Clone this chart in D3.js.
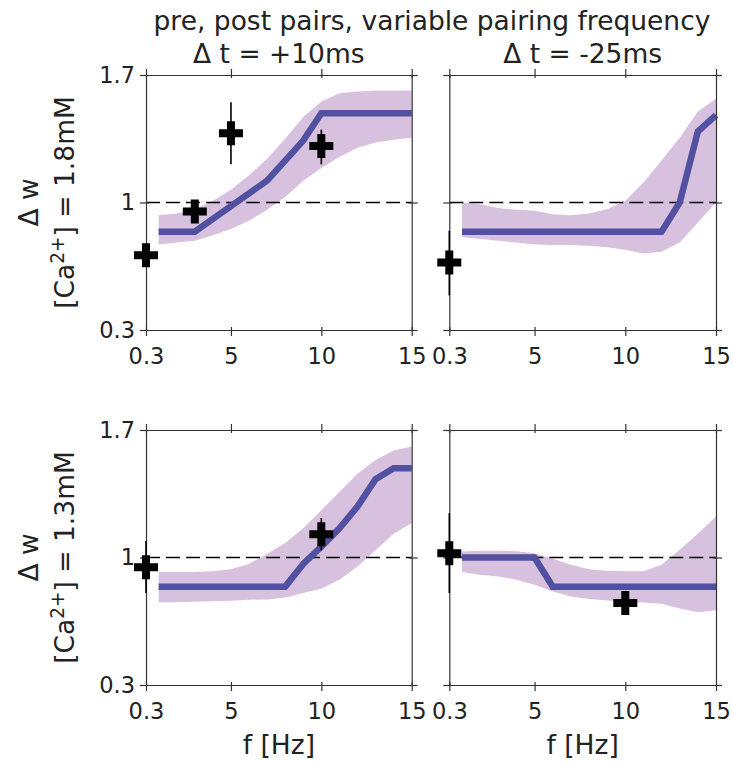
<!DOCTYPE html>
<html><head><meta charset="utf-8">
<script src="https://cdn.jsdelivr.net/npm/d3@7"></script>
<style>body{margin:0;background:#fff}svg{display:block}text{font-family:"DejaVu Sans",sans-serif;fill:#222}</style>
</head><body><div id="c"></div>
<script>
// ---------- data ----------
const freqs = [1,2,3,4,5,6,7,8,9,10,11,12,13,14,15];
const xTicks = [0.3,5,10,15];
const yTicks = [0.3,1,1.7];
const title = "pre, post pairs, variable pairing frequency";
const colTitles = ["\u0394 t = +10ms","\u0394 t = -25ms"];
const rowConc = ["1.8mM","1.3mM"];

// model (line + band) per panel
const tlLine  = [0.84,0.84,0.84,0.91,0.98,1.05,1.12,1.23,1.34,1.49,1.49,1.49,1.49,1.49,1.49];
const tlUpper = [0.93,0.94,0.96,1.01,1.07,1.15,1.24,1.35,1.47,1.555,1.60,1.61,1.615,1.615,1.615];
const tlLower = [0.77,0.78,0.79,0.82,0.855,0.90,0.96,1.03,1.12,1.19,1.25,1.30,1.33,1.345,1.355];

const trLine  = [0.84,0.84,0.84,0.84,0.84,0.84,0.84,0.84,0.84,0.84,0.84,0.84,1.0,1.39,1.48];
const trUpper = [1.0,0.99,0.97,0.96,0.955,0.935,0.93,0.94,0.963,1.01,1.11,1.23,1.355,1.50,1.57];
const trLower = [0.81,0.80,0.79,0.78,0.77,0.767,0.767,0.763,0.754,0.74,0.72,0.73,0.78,0.89,1.0];

const blLine  = [0.84,0.84,0.84,0.84,0.84,0.84,0.84,0.84,0.965,1.06,1.16,1.28,1.43,1.49,1.49];
const blUpper = [0.92,0.92,0.92,0.925,0.936,0.964,1.02,1.08,1.16,1.26,1.36,1.46,1.535,1.587,1.61];
const blLower = [0.755,0.755,0.757,0.76,0.763,0.768,0.77,0.78,0.805,0.83,0.878,0.95,1.04,1.13,1.19];

const brLine  = [1,1,1,1,1,0.84,0.84,0.84,0.84,0.84,0.84,0.84,0.84,0.84,0.84];
const brUpper = [1.033,1.037,1.037,1.035,1.024,0.993,0.96,0.936,0.927,0.925,0.925,0.96,1.042,1.13,1.225];
const brLower = [0.92,0.905,0.896,0.878,0.85,0.814,0.786,0.772,0.764,0.759,0.753,0.746,0.72,0.70,0.71];

// experimental points (mean, error low, error high)
const tlPtF = [0.3,3,5,10];  const tlPtW = [0.71,0.95,1.38,1.31];
const tlPtLo = [0.68,0.93,1.21,1.21]; const tlPtHi = [0.74,0.97,1.55,1.40];
const trPtF = [0.3];         const trPtW = [0.67];
const trPtLo = [0.49];       const trPtHi = [0.845];
const blPtF = [0.3,10];      const blPtW = [0.947,1.128];
const blPtLo = [0.805,1.04]; const blPtHi = [1.09,1.216];
const brPtF = [0.3,10];      const brPtW = [1.024,0.75];
const brPtLo = [0.805,0.73]; const brPtHi = [1.243,0.77];

// ---------- layout ----------
const W = 733, H = 763;
const LINE_COL = "#5250a0", BAND_COL = "#d7c1de", AX_COL = "#333";
const colX = [[146,411.7],[449.3,716]];
const rowY = [[75,330],[430,685]];
const panels = [
  {r:0,c:0,line:tlLine,up:tlUpper,lo:tlLower,pf:tlPtF,pw:tlPtW,pl:tlPtLo,ph:tlPtHi},
  {r:0,c:1,line:trLine,up:trUpper,lo:trLower,pf:trPtF,pw:trPtW,pl:trPtLo,ph:trPtHi},
  {r:1,c:0,line:blLine,up:blUpper,lo:blLower,pf:blPtF,pw:blPtW,pl:blPtLo,ph:blPtHi},
  {r:1,c:1,line:brLine,up:brUpper,lo:brLower,pf:brPtF,pw:brPtW,pl:brPtLo,ph:brPtHi}
];

const svg = d3.select("#c").append("svg").attr("width",W).attr("height",H);
const FT = 22.5, FL = 26.5;

svg.append("text").attr("x",432).attr("y",30).attr("text-anchor","middle")
  .style("font-size",FL+"px").text(title);

panels.forEach(p => {
  const [x0,x1] = colX[p.c], [y0,y1] = rowY[p.r];
  const x = d3.scaleLinear().domain([0.3,15]).range([x0,x1]);
  const y = d3.scaleLinear().domain([0.3,1.7]).range([y1,y0]);
  const g = svg.append("g");

  // band
  const area = d3.area().x((d,i)=>x(freqs[i])).y0((d,i)=>y(p.lo[i])).y1((d,i)=>y(p.up[i]));
  g.append("path").datum(freqs).attr("d",area).attr("fill",BAND_COL);
  // dashed reference at 1
  g.append("line").attr("x1",x0).attr("x2",x1).attr("y1",y(1)).attr("y2",y(1))
    .attr("stroke","#000").attr("stroke-width",1.3).attr("stroke-dasharray","14,6");
  // model line
  const line = d3.line().x((d,i)=>x(freqs[i])).y((d,i)=>y(p.line[i]));
  g.append("path").datum(freqs).attr("d",line).attr("fill","none")
    .attr("stroke",LINE_COL).attr("stroke-width",6.5).attr("stroke-linejoin","miter");

  // axes
  const fmtX = d => d===0.3 ? "0.3" : String(d);
  const fmtY = d => d===1 ? "1" : String(d);
  const inout = (sel, a, b, attr1, attr2) => sel.selectAll(".tick line").attr(attr1,a).attr(attr2,b).attr("stroke",AX_COL).attr("stroke-width",1.2);
  const ax = [
    {gen:d3.axisBottom(x).tickValues(xTicks).tickFormat(fmtX).tickSize(5).tickPadding(13).tickSizeOuter(0), t:`translate(0,${y1})`, io:[-3,6,"y1","y2"], lab:true},
    {gen:d3.axisTop(x).tickValues(xTicks).tickFormat("").tickSize(5).tickSizeOuter(0), t:`translate(0,${y0})`, io:[3,-6,"y1","y2"], lab:false},
    {gen:d3.axisLeft(y).tickValues(yTicks).tickFormat(p.c===0?fmtY:"").tickSize(5).tickPadding(6).tickSizeOuter(0), t:`translate(${x0},0)`, io:[3,-6,"x1","x2"], lab:p.c===0},
    {gen:d3.axisRight(y).tickValues(yTicks).tickFormat("").tickSize(5).tickSizeOuter(0), t:`translate(${x1},0)`, io:[-3,6,"x1","x2"], lab:false}
  ];
  ax.forEach(a => {
    const ag = g.append("g").attr("transform",a.t).call(a.gen);
    ag.select(".domain").attr("stroke",AX_COL).attr("stroke-width",1.2);
    inout(ag, a.io[0], a.io[1], a.io[2], a.io[3]);
    ag.selectAll("text").style("font-size",FT+"px").style("font-family","DejaVu Sans").attr("fill","#222");
  });

  // experimental points
  p.pf.forEach((f,i) => {
    g.append("line").attr("x1",x(f)).attr("x2",x(f)).attr("y1",y(p.pl[i])).attr("y2",y(p.ph[i]))
      .attr("stroke","#000").attr("stroke-width",1.6);
    const cx = x(f), cy = y(p.pw[i]), s = 12, t = 4;
    g.append("path").attr("d",`M${cx-t},${cy-s}H${cx+t}V${cy-t}H${cx+s}V${cy+t}H${cx+t}V${cy+s}H${cx-t}V${cy+t}H${cx-s}V${cy-t}H${cx-t}Z`)
      .attr("fill","#000");
  });

  // titles / labels
  if (p.r===0) svg.append("text").attr("x",(x0+x1)/2).attr("y",63).attr("text-anchor","middle")
      .style("font-size",FL+"px").text(colTitles[p.c]);
  if (p.r===1) svg.append("text").attr("x",(x0+x1)/2).attr("y",754).attr("text-anchor","middle")
      .style("font-size",FL+"px").text("f [Hz]");
  if (p.c===0) {
    const cy = (y0+y1)/2;
    svg.append("text").attr("transform",`translate(38,${cy}) rotate(-90)`).attr("text-anchor","middle")
      .style("font-size",FL+"px").text("\u0394 w");
    const t = svg.append("text").attr("transform",`translate(74,${cy}) rotate(-90)`).attr("text-anchor","middle")
      .style("font-size",FL+"px");
    t.append("tspan").text("[Ca");
    t.append("tspan").attr("baseline-shift","super").style("font-size",(FL*0.7)+"px").text("2+");
    t.append("tspan").text("] = " + rowConc[p.r]);
  }
});
</script></body></html>
